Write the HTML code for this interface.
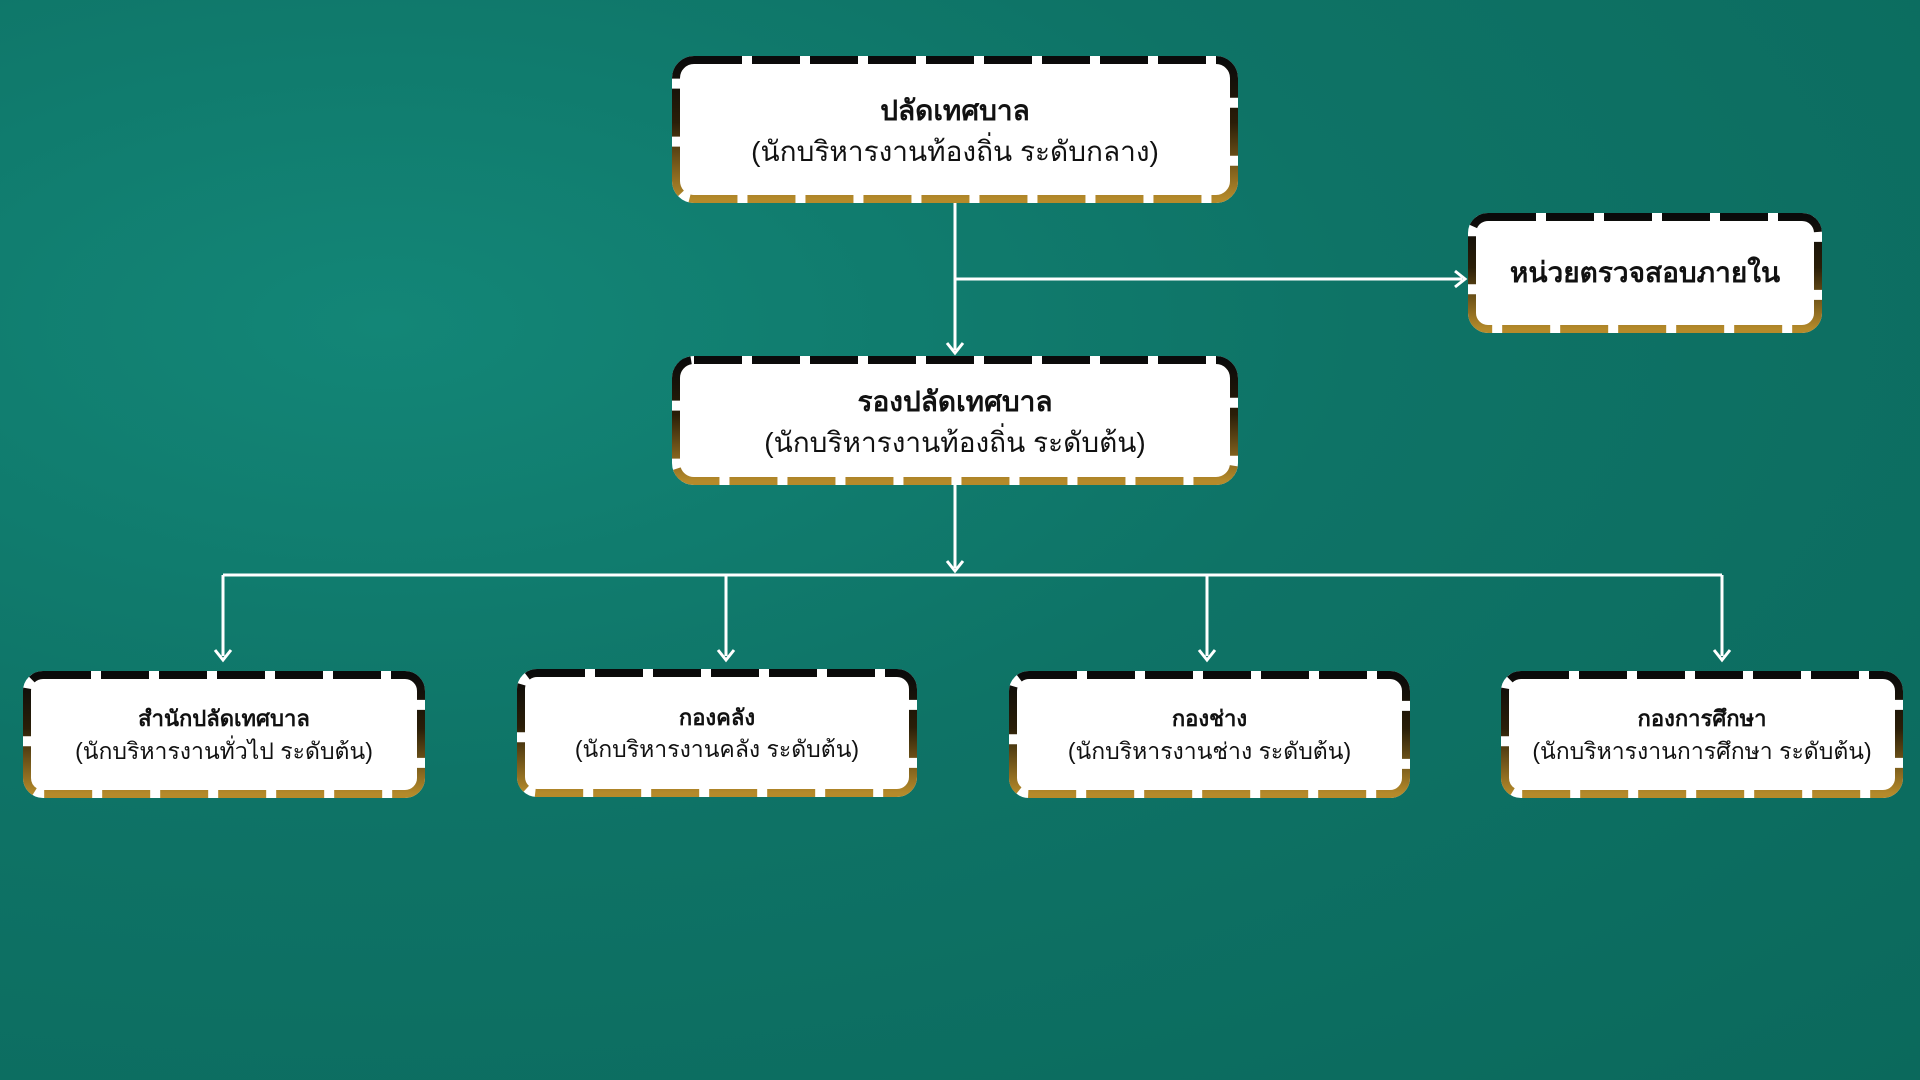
<!DOCTYPE html>
<html><head><meta charset="utf-8">
<style>
html,body{margin:0;padding:0;}
body{width:1920px;height:1080px;overflow:hidden;position:relative;
background:radial-gradient(ellipse at 20% 30%,#138677 0%,#0e7366 45%,#0b695c 100%);
font-family:"Liberation Sans","Noto Sans CJK SC",sans-serif;}
svg{position:absolute;left:0;top:0;}
.t{position:absolute;display:flex;flex-direction:column;align-items:center;justify-content:center;text-align:center;color:#111;}
.big{line-height:1.45;}
.big b{font-size:28px;}
.big span{font-size:28px;}
.sm{line-height:1.4;}
.sm b{font-size:22px;}
.sm span{font-size:23px;}
</style></head><body>
<svg width="1920" height="1080">
<defs>
<linearGradient id="g" x1="0" y1="0" x2="0" y2="1">
<stop offset="0" stop-color="#0a0a0a"/><stop offset="0.45" stop-color="#2a1e08"/><stop offset="1" stop-color="#b58a2a"/>
</linearGradient>
</defs>
<g stroke="#fff" stroke-width="3" fill="none">
<line x1="955" y1="202" x2="955" y2="350"/>
<line x1="955" y1="279" x2="1462" y2="279"/>
<line x1="955" y1="484" x2="955" y2="568"/>
<line x1="223" y1="575" x2="1722" y2="575"/>
<line x1="223" y1="575" x2="223" y2="656"/>
<line x1="726" y1="575" x2="726" y2="656"/>
<line x1="1207" y1="575" x2="1207" y2="656"/>
<line x1="1722" y1="575" x2="1722" y2="656"/>
<polyline points="947,343 955,353 963,343"/>
<polyline points="1455,271 1465,279 1455,287"/>
<polyline points="947,561 955,571 963,561"/>
<polyline points="215,650 223,660 231,650"/>
<polyline points="718,650 726,660 734,650"/>
<polyline points="1199,650 1207,660 1215,650"/>
<polyline points="1714,650 1722,660 1730,650"/>
</g>
<g>
<rect x="676" y="60" width="558" height="139" rx="18" fill="#fff" stroke="#fff" stroke-width="8"/>
<rect x="676" y="60" width="558" height="139" rx="18" fill="none" stroke="url(#g)" stroke-width="8" stroke-dasharray="48 10"/>
<rect x="1472" y="217" width="346" height="112" rx="16" fill="#fff" stroke="#fff" stroke-width="8"/>
<rect x="1472" y="217" width="346" height="112" rx="16" fill="none" stroke="url(#g)" stroke-width="8" stroke-dasharray="48 10"/>
<rect x="676" y="360" width="558" height="121" rx="18" fill="#fff" stroke="#fff" stroke-width="8"/>
<rect x="676" y="360" width="558" height="121" rx="18" fill="none" stroke="url(#g)" stroke-width="8" stroke-dasharray="48 10"/>
<rect x="27" y="675" width="394" height="119" rx="16" fill="#fff" stroke="#fff" stroke-width="8"/>
<rect x="27" y="675" width="394" height="119" rx="16" fill="none" stroke="url(#g)" stroke-width="8" stroke-dasharray="48 10"/>
<rect x="521" y="673" width="392" height="120" rx="16" fill="#fff" stroke="#fff" stroke-width="8"/>
<rect x="521" y="673" width="392" height="120" rx="16" fill="none" stroke="url(#g)" stroke-width="8" stroke-dasharray="48 10"/>
<rect x="1013" y="675" width="393" height="119" rx="16" fill="#fff" stroke="#fff" stroke-width="8"/>
<rect x="1013" y="675" width="393" height="119" rx="16" fill="none" stroke="url(#g)" stroke-width="8" stroke-dasharray="48 10"/>
<rect x="1505" y="675" width="394" height="119" rx="16" fill="#fff" stroke="#fff" stroke-width="8"/>
<rect x="1505" y="675" width="394" height="119" rx="16" fill="none" stroke="url(#g)" stroke-width="8" stroke-dasharray="48 10"/>
</g>
</svg>
<div class="t big" style="left:676px;top:64px;width:558px;height:135px;"><b>ปลัดเทศบาล</b><span>(นักบริหารงานท้องถิ่น ระดับกลาง)</span></div>
<div class="t big" style="left:1472px;top:217px;width:346px;height:112px;"><b>หน่วยตรวจสอบภายใน</b></div>
<div class="t big" style="left:676px;top:362px;width:558px;height:121px;"><b>รองปลัดเทศบาล</b><span>(นักบริหารงานท้องถิ่น ระดับต้น)</span></div>
<div class="t sm" style="left:27px;top:676px;width:394px;height:119px;"><b>สำนักปลัดเทศบาล</b><span>(นักบริหารงานทั่วไป ระดับต้น)</span></div>
<div class="t sm" style="left:521px;top:674px;width:392px;height:120px;"><b>กองคลัง</b><span>(นักบริหารงานคลัง ระดับต้น)</span></div>
<div class="t sm" style="left:1013px;top:676px;width:393px;height:119px;"><b>กองช่าง</b><span>(นักบริหารงานช่าง ระดับต้น)</span></div>
<div class="t sm" style="left:1505px;top:676px;width:394px;height:119px;"><b>กองการศึกษา</b><span>(นักบริหารงานการศึกษา ระดับต้น)</span></div>
</body></html>
